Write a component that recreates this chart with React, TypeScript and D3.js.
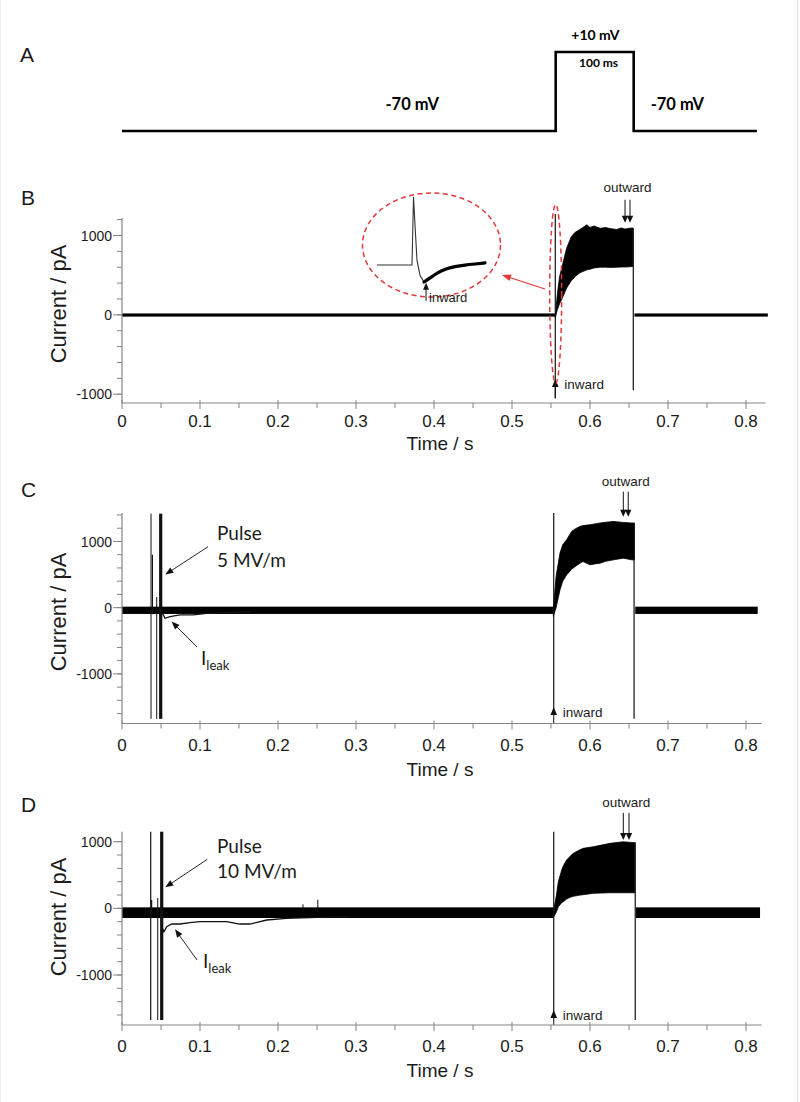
import React from "react";
import * as d3 from "d3";

// ---------------- DATA ----------------
// Panel A: voltage protocol
const protocolTime = [0, 0.556, 0.556, 0.656, 0.656, 0.814];
const protocolVoltage = [-70, -70, 10, 10, -70, -70];

// Axis ticks
const xMajorTicks = [0, 0.1, 0.2, 0.3, 0.4, 0.5, 0.6, 0.7, 0.8];
const xMajorLabels = ["0", "0.1", "0.2", "0.3", "0.4", "0.5", "0.6", "0.7", "0.8"];
const xMinorTicks = [0.05, 0.15, 0.25, 0.35, 0.45, 0.55, 0.65, 0.75];
const yMajorTicks = [-1000, 0, 1000];
const yMajorLabels = ["-1000", "0", "1000"];
const yMinorB = [-1000, -800, -600, -400, -200, 0, 200, 400, 600, 800, 1000, 1200];
const yMinorC = [-1600, -1400, -1200, -1000, -800, -600, -400, -200, 0, 200, 400, 600, 800, 1000, 1200, 1400];
const yMinorD = [-1600, -1400, -1200, -1000, -800, -600, -400, -200, 0, 200, 400, 600, 800, 1000];

// Panel B (control)
const bBaseSegments = [[0, 0.5555], [0.657, 0.828]];
const bBaseHi = 18;
const bBaseLo = -22;
const bBandTime = [0.5555, 0.558, 0.561, 0.564, 0.570, 0.576, 0.581, 0.587, 0.596, 0.600, 0.605, 0.613, 0.620, 0.627, 0.634, 0.640, 0.645, 0.650, 0.655];
const bBandHi = [-20, 250, 480, 600, 840, 985, 1040, 1075, 1135, 1100, 1120, 1090, 1100, 1085, 1075, 1095, 1080, 1090, 1095];
const bBandLo = [-40, 60, 140, 200, 337, 430, 483, 530, 567, 575, 590, 600, 600, 598, 600, 602, 603, 605, 610];
const bSpikeTime = [0.5555, 0.6555];
const bSpikeHi = [1270, 1090];
const bSpikeLo = [-1050, -950];

// Panel C (5 MV/m)
const cBaseSegments = [[0, 0.553], [0.658, 0.815]];
const cBaseHi = 15;
const cBaseLo = -95;
const cBandTime = [0.553, 0.5565, 0.5615, 0.565, 0.570, 0.5765, 0.581, 0.587, 0.591, 0.600, 0.606, 0.613, 0.620, 0.630, 0.6427, 0.6535, 0.657];
const cBandHi = [-35, 470, 824, 950, 1026, 1152, 1190, 1227, 1240, 1253, 1265, 1279, 1290, 1303, 1288, 1279, 1280];
const cBandLo = [-130, 0, 268, 400, 495, 580, 621, 670, 697, 647, 660, 672, 700, 722, 748, 722, 720];
const cSpikeTime = [0.0372, 0.039, 0.0445, 0.0496, 0.5535, 0.6565];
const cSpikeHi = [1420, 800, 160, 1420, 1430, 1280];
const cSpikeLo = [-1680, -100, -1680, -1680, -1560, -1680];
const cLeakTime = [0.0496, 0.0509, 0.0551, 0.0615, 0.0744, 0.0914, 0.1085, 0.134, 0.164];
const cLeakValue = [-20, -60, -160, -136, -110, -110, -85, -75, -60];

// Panel D (10 MV/m)
const dBaseSegments = [[0, 0.553], [0.659, 0.818]];
const dBaseHi = 15;
const dBaseLo = -145;
const dBandTime = [0.5535, 0.557, 0.5594, 0.5637, 0.5658, 0.570, 0.5744, 0.5786, 0.5872, 0.5913, 0.6043, 0.6085, 0.6256, 0.6427, 0.6575];
const dBandHi = [-25, 200, 400, 574, 640, 724, 780, 825, 880, 900, 925, 934, 975, 999, 984];
const dBandLo = [-126, -50, 24, 85, 99, 140, 165, 180, 199, 205, 225, 228, 234, 234, 234];
const dSpikeTime = [0.0368, 0.038, 0.0458, 0.0509, 0.232, 0.251, 0.5535, 0.658];
const dSpikeHi = [1150, 125, 155, 1150, 60, 130, 1150, 990];
const dSpikeLo = [-1675, -100, -1675, -1675, -50, -60, -1650, -1675];
const dLeakTime = [0.0509, 0.0538, 0.0573, 0.0637, 0.0744, 0.0872, 0.100, 0.117, 0.134, 0.151, 0.164, 0.1855, 0.211, 0.250, 0.292];
const dLeakValue = [-275, -350, -275, -235, -235, -215, -200, -200, -200, -235, -235, -175, -150, -135, -125];

// Inset (B): time in ms, current in % of capacitive peak
const insetThinTime = [0, 3.24, 3.38, 3.52, 3.70, 3.98, 4.35, 4.63];
const insetThinValue = [20, 20, 100, 67, 26, 8, 0, 1];
const insetThickTime = [4.35, 4.91, 5.56, 6.30, 7.22, 8.15, 9.07, 10.0];
const insetThickValue = [0, 4.7, 10.6, 15.3, 18.2, 20, 21.2, 22.4];

// ---------------- STYLE ----------------
const AXIS_COLOR = "#858585";
const TEXT_COLOR = "#1b1b1b";
const SANS = "'Liberation Sans', Arial, sans-serif";
const CAL = "Lato, 'Open Sans', sans-serif";
const RED = "#e0393a";
const spikeWidthC = [1, 1.2, 1, 3.2, 1.2, 1.2];
const spikeWidthD = [1.2, 1.2, 1, 3.2, 1, 1, 1.2, 1.2];
const spikeWidthB = [1.2, 1.2];

const xScale = d3.scaleLinear().domain([0, 0.1]).range([122, 200]);

function head(x1: number, y1: number, x2: number, y2: number, len = 7, w = 3) {
  const a = Math.atan2(y2 - y1, x2 - x1);
  const bx = x2 - len * Math.cos(a);
  const by = y2 - len * Math.sin(a);
  const px = -Math.sin(a) * w;
  const py = Math.cos(a) * w;
  return `${x2},${y2} ${bx + px},${by + py} ${bx - px},${by - py}`;
}

function Arrow({ x1, y1, x2, y2, color = "#111", len = 7, w = 3, sw = 0.9 }: any) {
  const a = Math.atan2(y2 - y1, x2 - x1);
  const ex = x2 - (len - 1) * Math.cos(a);
  const ey = y2 - (len - 1) * Math.sin(a);
  return (
    <g>
      <line x1={x1} y1={y1} x2={ex} y2={ey} stroke={color} strokeWidth={sw} />
      <polygon points={head(x1, y1, x2, y2, len, w)} fill={color} />
    </g>
  );
}

type PanelCfg = {
  letter: string;
  letterY: number;
  yDomain: [number, number];
  yRange: [number, number];
  yMinor: number[];
  xEnd: number;
  ylabelY: number;
  tickLabelOffset: number;
  titleOffset: number;
  baseSegments: number[][];
  baseHi: number;
  baseLo: number;
  bandTime: number[];
  bandHi: number[];
  bandLo: number[];
  spikeTime: number[];
  spikeHi: number[];
  spikeLo: number[];
  spikeWidth: number[];
  leakTime?: number[];
  leakValue?: number[];
  inwardTip: number;
  inwardStemEnd: number;
  outwardTop: number;
  outwardTip: number;
  outwardT: [number, number];
  outwardTextV: number;
};

function Panel({ c, children }: { c: PanelCfg; children?: any }) {
  const x = xScale;
  const y = d3.scaleLinear().domain(c.yDomain).range(c.yRange);
  const yBottom = c.yRange[0];
  const yTop = c.yRange[1];
  const axisX = x(0);

  const band = d3
    .area<number>()
    .x((_, i) => x(c.bandTime[i]))
    .y0((_, i) => y(c.bandLo[i]))
    .y1((_, i) => y(c.bandHi[i]))
    .curve(d3.curveLinear);

  const leak =
    c.leakTime && c.leakValue
      ? d3
          .line<number>()
          .x((_, i) => x(c.leakTime![i]))
          .y((_, i) => y(c.leakValue![i]))
          .curve(d3.curveLinear)
      : null;

  const sx = x(c.spikeTime[c.spikeTime.length - 2]);
  return (
    <g>
      <text x={21} y={c.letterY} fontFamily={SANS} fontSize={21} fill={TEXT_COLOR}>
        {c.letter}
      </text>
      {c.baseSegments.map((s, i) => (
        <rect
          key={"bs" + i}
          x={x(s[0])}
          y={y(c.baseHi)}
          width={x(s[1]) - x(s[0])}
          height={y(c.baseLo) - y(c.baseHi)}
          fill="#000"
        />
      ))}
      {leak && <path d={leak(c.leakTime!) || ""} fill="none" stroke="#111" strokeWidth={1.3} />}
      <path d={band(c.bandTime) || ""} fill="#000" stroke="#000" strokeWidth={0.8} strokeLinejoin="round" />
      {c.spikeTime.map((t, i) => (
        <line
          key={"sp" + i}
          x1={x(t)}
          x2={x(t)}
          y1={y(c.spikeHi[i])}
          y2={y(c.spikeLo[i])}
          stroke="#111"
          strokeWidth={c.spikeWidth[i]}
        />
      ))}
      <line x1={sx} x2={sx} y1={y(c.inwardTip) + 5} y2={y(c.inwardStemEnd)} stroke="#111" strokeWidth={1} />
      <polygon points={head(sx, y(c.inwardTip) + 10, sx, y(c.inwardTip), 8, 3.3)} fill="#111" />
      <text x={sx + 9} y={y(c.inwardTip) + 10} fontFamily={SANS} fontSize={13.5} fill={TEXT_COLOR}>
        inward
      </text>
      {c.outwardT.map((t, i) => (
        <Arrow key={"ow" + i} x1={x(t)} y1={y(c.outwardTop)} x2={x(t)} y2={y(c.outwardTip)} len={7} w={3.2} sw={1} />
      ))}
      <text
        x={(x(c.outwardT[0]) + x(c.outwardT[1])) / 2}
        y={y(c.outwardTextV)}
        textAnchor="middle"
        fontFamily={SANS}
        fontSize={13.5}
        fill={TEXT_COLOR}
      >
        outward
      </text>
      {children && children(x, y)}
      <line x1={axisX} x2={axisX} y1={yTop} y2={yBottom} stroke={AXIS_COLOR} strokeWidth={1.2} />
      <line x1={axisX} x2={x(c.xEnd)} y1={yBottom} y2={yBottom} stroke={AXIS_COLOR} strokeWidth={1.2} />
      {c.yMinor.map((v) => (
        <line key={"ym" + v} x1={axisX - 5} x2={axisX} y1={y(v)} y2={y(v)} stroke={AXIS_COLOR} strokeWidth={1} />
      ))}
      {yMajorTicks.map((v, i) => (
        <g key={"yM" + v}>
          <line x1={axisX - 9} x2={axisX} y1={y(v)} y2={y(v)} stroke={AXIS_COLOR} strokeWidth={1} />
          <text
            x={axisX - 10}
            y={y(v)}
            dy="0.36em"
            textAnchor="end"
            fontFamily={SANS}
            fontSize={14}
            fill={TEXT_COLOR}
          >
            {yMajorLabels[i]}
          </text>
        </g>
      ))}
      {xMinorTicks.map((t) => (
        <line key={"xm" + t} x1={x(t)} x2={x(t)} y1={yBottom} y2={yBottom + 5} stroke={AXIS_COLOR} strokeWidth={1} />
      ))}
      {xMajorTicks.map((t, i) => (
        <g key={"xM" + t}>
          <line x1={x(t)} x2={x(t)} y1={yBottom - 3} y2={yBottom + 6} stroke={AXIS_COLOR} strokeWidth={1} />
          <text
            x={x(t)}
            y={yBottom + c.tickLabelOffset}
            textAnchor="middle"
            fontFamily={SANS}
            fontSize={17}
            fill={TEXT_COLOR}
          >
            {xMajorLabels[i]}
          </text>
        </g>
      ))}
      <text
        x={440}
        y={yBottom + c.titleOffset}
        textAnchor="middle"
        fontFamily={SANS}
        fontSize={19}
        fill={TEXT_COLOR}
      >
        Time / s
      </text>
      <text
        transform={`translate(66,${c.ylabelY}) rotate(-90)`}
        textAnchor="middle"
        fontFamily={SANS}
        fontSize={22}
        fill={TEXT_COLOR}
      >
        Current / pA
      </text>
    </g>
  );
}

const panelB: PanelCfg = {
  letter: "B",
  letterY: 205,
  yDomain: [-1110, 1220],
  yRange: [403, 218],
  yMinor: yMinorB,
  xEnd: 0.825,
  ylabelY: 304,
  tickLabelOffset: 24,
  titleOffset: 47,
  baseSegments: bBaseSegments,
  baseHi: bBaseHi,
  baseLo: bBaseLo,
  bandTime: bBandTime,
  bandHi: bBandHi,
  bandLo: bBandLo,
  spikeTime: bSpikeTime,
  spikeHi: bSpikeHi,
  spikeLo: bSpikeLo,
  spikeWidth: spikeWidthB,
  inwardTip: -807,
  inwardStemEnd: -1050,
  outwardTop: 1450,
  outwardTip: 1160,
  outwardT: [0.6449, 0.6513],
  outwardTextV: 1550,
};

const panelC: PanelCfg = {
  letter: "C",
  letterY: 497,
  yDomain: [-1750, 1430],
  yRange: [723.5, 513],
  yMinor: yMinorC,
  xEnd: 0.82,
  ylabelY: 612,
  tickLabelOffset: 27,
  titleOffset: 52,
  baseSegments: cBaseSegments,
  baseHi: cBaseHi,
  baseLo: cBaseLo,
  bandTime: cBandTime,
  bandHi: cBandHi,
  bandLo: cBandLo,
  spikeTime: cSpikeTime,
  spikeHi: cSpikeHi,
  spikeLo: cSpikeLo,
  spikeWidth: spikeWidthC,
  leakTime: cLeakTime,
  leakValue: cLeakValue,
  inwardTip: -1500,
  inwardStemEnd: -1750,
  outwardTop: 1753,
  outwardTip: 1374,
  outwardT: [0.6427, 0.649],
  outwardTextV: 1845,
};

const panelD: PanelCfg = {
  letter: "D",
  letterY: 812,
  yDomain: [-1750, 1150],
  yRange: [1025, 831.7],
  yMinor: yMinorD,
  xEnd: 0.82,
  ylabelY: 917,
  tickLabelOffset: 27,
  titleOffset: 52,
  baseSegments: dBaseSegments,
  baseHi: dBaseHi,
  baseLo: dBaseLo,
  bandTime: dBandTime,
  bandHi: dBandHi,
  bandLo: dBandLo,
  spikeTime: dSpikeTime,
  spikeHi: dSpikeHi,
  spikeLo: dSpikeLo,
  spikeWidth: spikeWidthD,
  leakTime: dLeakTime,
  leakValue: dLeakValue,
  inwardTip: -1525,
  inwardStemEnd: -1750,
  outwardTop: 1432,
  outwardTip: 1027,
  outwardT: [0.6427, 0.650],
  outwardTextV: 1520,
};

function PanelA() {
  const x = xScale;
  const y = d3.scaleLinear().domain([-70, 10]).range([131, 52]);
  const line = d3
    .line<number>()
    .x((_, i) => x(protocolTime[i]))
    .y((_, i) => y(protocolVoltage[i]));
  return (
    <g>
      <text x={20} y={62} fontFamily={SANS} fontSize={21} fill={TEXT_COLOR}>
        A
      </text>
      <path d={line(protocolTime) || ""} fill="none" stroke="#000" strokeWidth={2.6} strokeLinejoin="miter" />
      <text x={x(0.607)} y={40} textAnchor="middle" fontFamily={CAL} fontWeight={700} fontSize={14} fill="#000">
        +10 mV
      </text>
      <text x={x(0.611)} y={67} textAnchor="middle" fontFamily={CAL} fontWeight={700} fontSize={12} fill="#000">
        100 ms
      </text>
      <text x={x(0.372)} y={110} textAnchor="middle" fontFamily={CAL} fontWeight={700} fontSize={16.5} fill="#000">
        -70 mV
      </text>
      <text x={x(0.712)} y={110} textAnchor="middle" fontFamily={CAL} fontWeight={700} fontSize={16.5} fill="#000">
        -70 mV
      </text>
    </g>
  );
}

function InsetB() {
  const ix = d3.scaleLinear().domain([0, 10]).range([377, 485]);
  const iy = d3.scaleLinear().domain([0, 100]).range([282, 197]);
  const thin = d3
    .line<number>()
    .x((_, i) => ix(insetThinTime[i]))
    .y((_, i) => iy(insetThinValue[i]));
  const thick = d3
    .line<number>()
    .x((_, i) => ix(insetThickTime[i]))
    .y((_, i) => iy(insetThickValue[i]))
    .curve(d3.curveBasis);
  const ax = ix(4.54);
  return (
    <g>
      <ellipse cx={431.5} cy={245} rx={69} ry={52} fill="none" stroke={RED} strokeWidth={1.5} strokeDasharray="5 3.5" />
      <path d={thin(insetThinTime) || ""} fill="none" stroke="#333" strokeWidth={1.1} />
      <path d={thick(insetThickTime) || ""} fill="none" stroke="#000" strokeWidth={3.2} strokeLinecap="round" />
      <line x1={ax} x2={ax} y1={iy(-5)} y2={iy(-22)} stroke="#111" strokeWidth={1} />
      <polygon points={head(ax, iy(-9), ax, iy(-1), 7, 3)} fill="#111" />
      <text x={ax + 3} y={iy(-23.5)} fontFamily={SANS} fontSize={13} fill={TEXT_COLOR}>
        inward
      </text>
    </g>
  );
}

export default function App() {
  return (
    <svg
      width={800}
      height={1102}
      viewBox="0 0 800 1102"
      style={{ position: "absolute", left: 0, top: 0, background: "#fff" }}
    >
      <rect x={0} y={0} width={800} height={1102} fill="#fff" />
      <line x1={797.5} x2={797.5} y1={0} y2={1102} stroke="#e6e6e6" strokeWidth={1.5} />
      <line x1={0.5} x2={0.5} y1={0} y2={1102} stroke="#eeeeee" strokeWidth={1} />
      <PanelA />
      <Panel c={panelB}>
        {(x: any, y: any) => (
          <g>
            <ellipse
              cx={x(0.556)}
              cy={(y(1390) + y(-860)) / 2}
              rx={6}
              ry={(y(-860) - y(1390)) / 2}
              fill="none"
              stroke={RED}
              strokeWidth={1.5}
              strokeDasharray="5 3.5"
            />
            <Arrow x1={545} y1={289} x2={502} y2={275} color={RED} len={9} w={3.5} sw={1.2} />
          </g>
        )}
      </Panel>
      <InsetB />
      <Panel c={panelC}>
        {(x: any, y: any) => (
          <g>
            <text x={217} y={540} fontFamily={CAL} fontSize={19} fill={TEXT_COLOR}>
              Pulse
            </text>
            <text x={217} y={566.5} fontFamily={CAL} fontSize={19} fill={TEXT_COLOR}>
              5 MV/m
            </text>
            <Arrow x1={208} y1={546.7} x2={x(0.0555)} y2={y(500)} len={8} w={3.2} />
            <text x={201} y={665} fontFamily={CAL} fontSize={19} fill={TEXT_COLOR}>
              I<tspan fontSize={13} dy={5}>leak</tspan>
            </text>
            <Arrow x1={197} y1={647} x2={x(0.0636)} y2={y(-210)} len={8} w={3.2} />
          </g>
        )}
      </Panel>
      <Panel c={panelD}>
        {(x: any, y: any) => (
          <g>
            <text x={217} y={853.3} fontFamily={CAL} fontSize={19} fill={TEXT_COLOR}>
              Pulse
            </text>
            <text x={217} y={878.3} fontFamily={CAL} fontSize={19} fill={TEXT_COLOR}>
              10 MV/m
            </text>
            <Arrow x1={207.3} y1={859.3} x2={x(0.0555)} y2={y(315)} len={8} w={3.2} />
            <text x={203} y={968} fontFamily={CAL} fontSize={19} fill={TEXT_COLOR}>
              I<tspan fontSize={13} dy={5}>leak</tspan>
            </text>
            <Arrow x1={197} y1={960} x2={x(0.068)} y2={y(-315)} len={8} w={3.2} />
          </g>
        )}
      </Panel>
    </svg>
  );
}
